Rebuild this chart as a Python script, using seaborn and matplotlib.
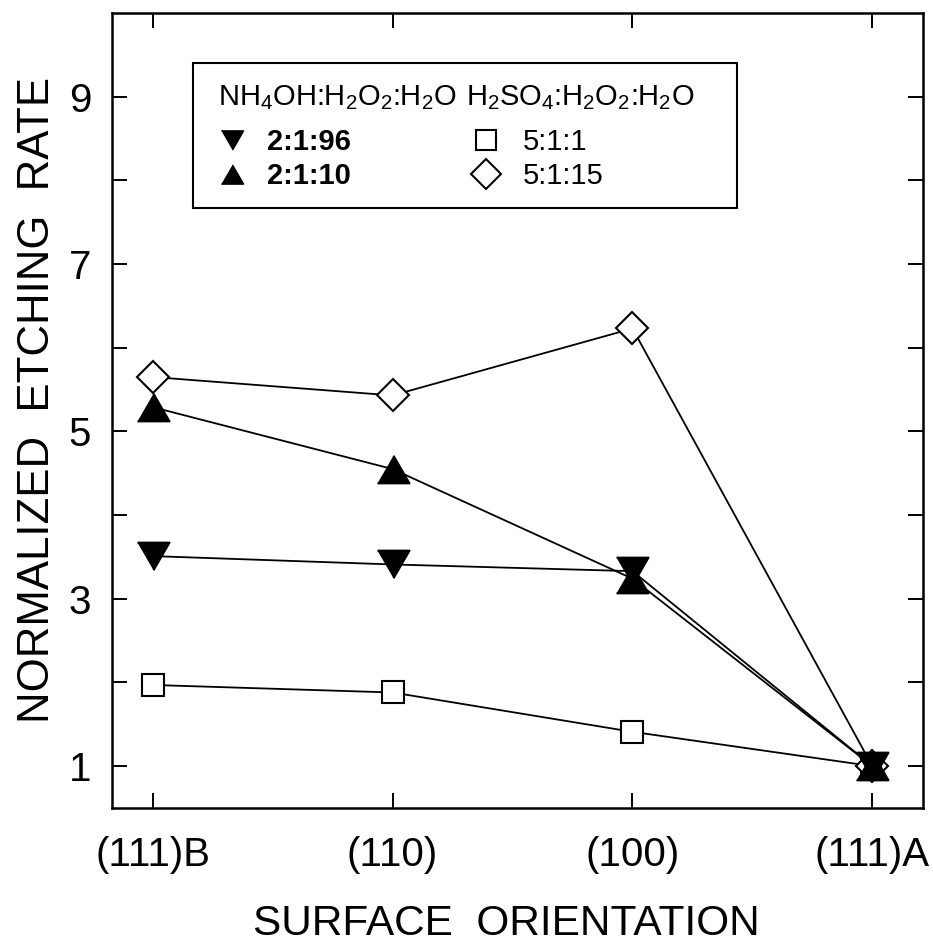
import numpy as np
import pandas as pd
import matplotlib
matplotlib.use("Agg")
import matplotlib.pyplot as plt
from matplotlib.lines import Line2D
from matplotlib.patches import Rectangle
import seaborn as sns

# data
orientations = ["(111)B", "(110)", "(100)", "(111)A"]
nh4_2_1_96 = [3.51, 3.41, 3.33, 1.0]
nh4_2_1_10 = [5.29, 4.55, 3.24, 1.0]
h2so4_5_1_1 = [1.97, 1.88, 1.41, 1.0]
h2so4_5_1_15 = [5.65, 5.43, 6.23, 1.0]

sns.set_style("ticks")
plt.rcParams["font.family"] = ["Liberation Sans", "DejaVu Sans"]
plt.rcParams["mathtext.fontset"] = "custom"
plt.rcParams["mathtext.rm"] = "Liberation Sans"
plt.rcParams["mathtext.it"] = "Liberation Sans"
plt.rcParams["text.color"] = "black"
plt.rcParams["axes.labelcolor"] = "black"

# equilateral triangles (width = ms)
tri_down = [(-1, 0.866), (1, 0.866), (0, -0.866)]
tri_up = [(-1, -0.866), (1, -0.866), (0, 0.866)]

# open symbols first so the filled triangles sit on top
series = [
    ("5:1:1", h2so4_5_1_1, "s", "white", 16.5),
    ("5:1:15", h2so4_5_1_15, "D", "white", 16.3),
    ("2:1:96", nh4_2_1_96, tri_down, "black", 23),
    ("2:1:10", nh4_2_1_10, tri_up, "black", 23),
]

fig = plt.figure(figsize=(9.33, 9.49), dpi=100)
ax = fig.add_axes([0.120, 0.1486, 0.869, 0.8377])

xpos = np.arange(len(orientations))
for name, vals, mk, fc, ms in series:
    df = pd.DataFrame({"x": xpos, "y": vals})
    sns.lineplot(data=df, x="x", y="y", ax=ax, color="black", lw=1.3,
                 marker=mk, markersize=ms, markerfacecolor=fc,
                 markeredgecolor="black", markeredgewidth=1.5)

ax.set_xlim(-0.17, 3.21)
ax.set_ylim(0.5, 10.0)
ax.set_xticks(xpos)
ax.set_xticklabels(orientations)
ax.set_yticks(range(1, 10))
ax.set_yticklabels([str(v) if v % 2 == 1 else "" for v in range(1, 10)])

ax.tick_params(direction="in", length=11, width=1.4, top=True, right=True,
               labelsize=29, colors="black")
ax.tick_params(axis="x", pad=20)
ax.tick_params(axis="y", pad=15)
for sp in ax.spines.values():
    sp.set_linewidth(1.8)
    sp.set_color("black")

ax.set_xlabel("SURFACE  ORIENTATION", fontsize=30.5, labelpad=22)
ax.set_ylabel("NORMALIZED  ETCHING  RATE", fontsize=31.5, labelpad=8)
ax.xaxis.label.set_x(0.487)
ax.yaxis.label.set_y(0.513)

# legend: two columns with headers inside one box
fs = 21
h1 = [Line2D([], [], ls="none", marker=tri_down, ms=16, mfc="black", mec="black"),
      Line2D([], [], ls="none", marker=tri_up, ms=16, mfc="black", mec="black")]
h2 = [Line2D([], [], ls="none", marker="s", ms=13.7, mfc="white", mec="black", mew=1.5),
      Line2D([], [], ls="none", marker="D", ms=15, mfc="white", mec="black", mew=1.5)]

leg_kw = dict(title_fontsize=fs, fontsize=fs, loc="upper left", frameon=False,
              borderpad=0, borderaxespad=0, alignment="left", labelspacing=0.2)
leg1 = ax.legend(h1, ["2:1:96", "2:1:10"], title="NH$_4$OH:H$_2$O$_2$:H$_2$O",
                 bbox_to_anchor=(0.1307, 0.912), handlelength=0.96,
                 handletextpad=0.72, **leg_kw)
for t in leg1.get_texts():
    t.set_fontweight("bold")
leg1._legend_box.sep = 12
ax.add_artist(leg1)
leg2 = ax.legend(h2, ["5:1:1", "5:1:15"], title="H$_2$SO$_4$:H$_2$O$_2$:H$_2$O",
                 bbox_to_anchor=(0.4365, 0.912), handlelength=1.37,
                 handletextpad=0.58, **leg_kw)
leg2._legend_box.sep = 12

ax.add_patch(Rectangle((0.0999, 0.7547), 0.6708, 0.1823, transform=ax.transAxes,
                       fill=False, lw=1.5, ec="black", zorder=5))

fig.savefig("out.png", dpi=100)
